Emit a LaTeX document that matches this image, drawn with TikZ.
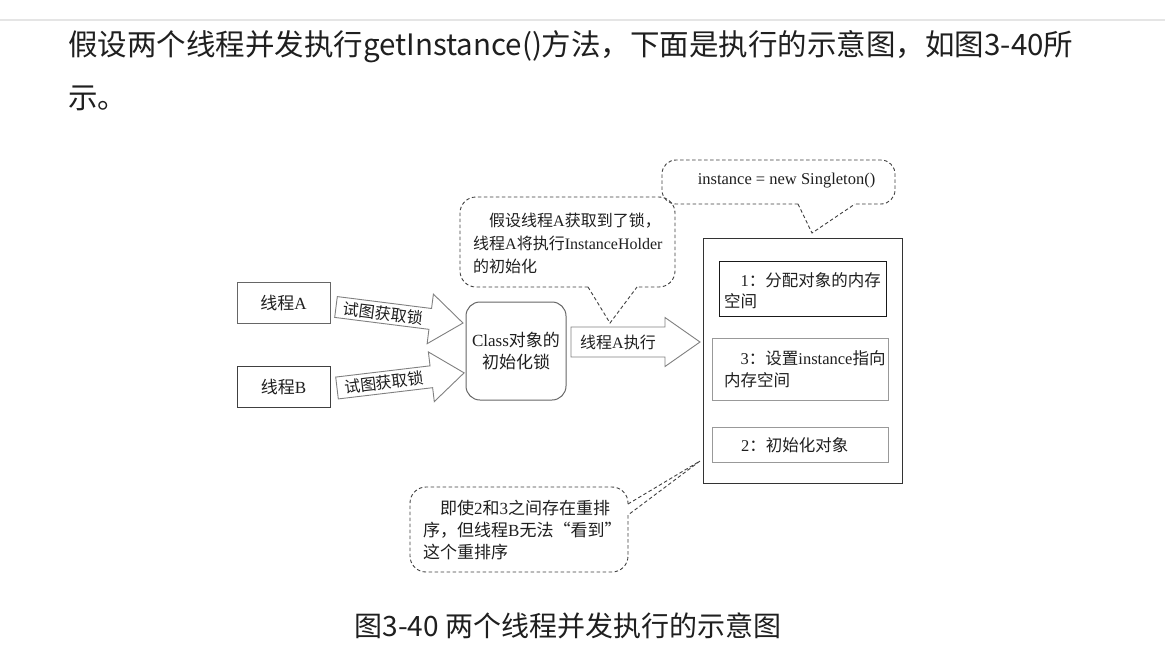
\documentclass[tikz,border=0pt]{standalone}
\usepackage{fontspec}
\setmainfont{Noto Sans CJK SC}
\newfontfamily\tm{Liberation Serif}
\newcommand\blkarrow[9]{%
\begin{scope}[shift={(#2,#3)},rotate=#4]
\draw[blockarrow] (0,-#6) -- ({#5-#8},-#6) -- ({#5-#8},-#7) -- (#5,0) -- ({#5-#8},#7) -- ({#5-#8},#6) -- (0,#6) -- cycle;
\node[dtext, transform shape] (#1) at ({(#5-#8)/2},0) {#9};
\end{scope}}
\begin{document}
\begin{tikzpicture}[x=1pt,y=-1pt,
  dtext/.style={font=\fontsize{16}{22}\selectfont, text=black!88, inner sep=0pt},
  ptext/.style={font=\fontsize{29.5}{36}\selectfont, text=black!88, inner sep=0pt},
  box/.style={draw=#1, line width=1pt, fill=white, inner sep=0pt},
  bubble/.style={draw=black!75, line width=0.9pt, dash pattern=on 3.5pt off 2.5pt},
  blockarrow/.style={draw=black!50, line width=0.9pt, fill=white, line join=miter}]
\useasboundingbox (0,0) rectangle (1165,665);
\fill[white] (0,0) rectangle (1165,665);
\draw[black!10, line width=1.5pt] (0,20) coordinate (tl) -- (1165,20) coordinate (tr);
% paragraph
\node[ptext, anchor=base west] (p1) at (68,55) {假设两个线程并发执行getInstance()方法，下面是执行的示意图，如图3-40所};
\node[ptext, anchor=base west] (p2) at (68,108) {示。};
% caption
\node[ptext, font=\fontsize{28}{34}\selectfont, anchor=base] (cap) at (568,636) {图3-40 两个线程并发执行的示意图};
% threads
\node[box=black!60, minimum width=93pt, minimum height=41pt] (ta) at (283.5,302.5) {};
\node[dtext, font=\fontsize{17}{22}\selectfont] (tat) at (ta) {线程{\tm A}};
\node[box=black!75, minimum width=93pt, minimum height=41pt] (tb) at (283.5,386.5) {};
\node[dtext, font=\fontsize{17}{22}\selectfont] (tbt) at (tb) {线程{\tm B}};
% arrows
\blkarrow{a1}{336}{307}{-7.2}{128}{10.5}{25}{33}{试图获取锁}
\blkarrow{a2}{337}{388}{6.8}{128}{11}{25}{33}{试图获取锁}
\blkarrow{a3}{571}{342}{0}{129}{15}{24.5}{35}{线程{\tm A}执行}
% class lock
\node[box=black!60, rounded corners=14pt, minimum width=100pt, minimum height=98pt] (cl) at (516,351) {};
\node[dtext, align=center, font=\fontsize{17}{22}\selectfont] (clt) at (cl) {{\tm Class}对象的\\初始化锁};
% big box
\node[box=black!80, minimum width=199pt, minimum height=245pt] (big) at (802.5,360.5) {};
\node[box=black!90, minimum width=167pt, minimum height=55pt] (b1) at (802.5,288.5) {};
\node[dtext, anchor=west, align=left, font=\fontsize{16.5}{21.5}\selectfont] (b1t) at (724,290.5) {\hspace*{1em}{\tm 1}：分配对象的内存\\空间};
\node[box=black!40, minimum width=176pt, minimum height=62pt] (b2) at (800,369) {};
\node[dtext, anchor=west, align=left, font=\fontsize{16.5}{22}\selectfont] (b2t) at (724,369) {\hspace*{1em}{\tm 3}：设置{\tm instance}指向\\内存空间};
\node[box=black!40, minimum width=176pt, minimum height=35pt] (b3) at (800,444.5) {};
\node[dtext, anchor=west, font=\fontsize{16.5}{22}\selectfont] (b3t) at (741,445) {{\tm 2}：初始化对象};
% callout 1
\draw[bubble, rounded corners=16pt] (588,287) -- (460,287) -- (460,197) -- (675,197) -- (675,287) -- (637,287);
\coordinate (c1tip) at (610,323);
\draw[bubble] (588,287) -- (c1tip) -- (637,287);
\node[dtext, anchor=west, align=left, font=\fontsize{16}{23}\selectfont] (c1t) at (473,243) {\hspace*{1em}假设线程{\tm A}获取到了锁，\\线程{\tm A}将执行{\tm InstanceHolder}\\的初始化};
% callout 2
\draw[bubble, rounded corners=14pt] (798,204) -- (662,204) -- (662,160) -- (895,160) -- (895,204) -- (855,204);
\coordinate (c2tip) at (812,233);
\draw[bubble] (798,204) -- (c2tip) -- (855,204);
\node[dtext, font=\fontsize{16.5}{22}\selectfont] (c2t) at (786.5,181) {\tm instance = new Singleton()};
% callout 3
\draw[bubble, rounded corners=16pt] (628,515) -- (628,572) -- (410,572) -- (410,487) -- (628,487) -- (628,504);
\coordinate (c3tip) at (700,461);
\draw[bubble] (628,504) -- (c3tip) -- (628,515);
\node[dtext, anchor=west, align=left, font=\fontsize{17}{22}\selectfont] (c3t) at (423,530) {\hspace*{1em}即使{\tm 2}和{\tm 3}之间存在重排\\序，但线程{\tm B}无法“看到”\\这个重排序};
\end{tikzpicture}
\end{document}
